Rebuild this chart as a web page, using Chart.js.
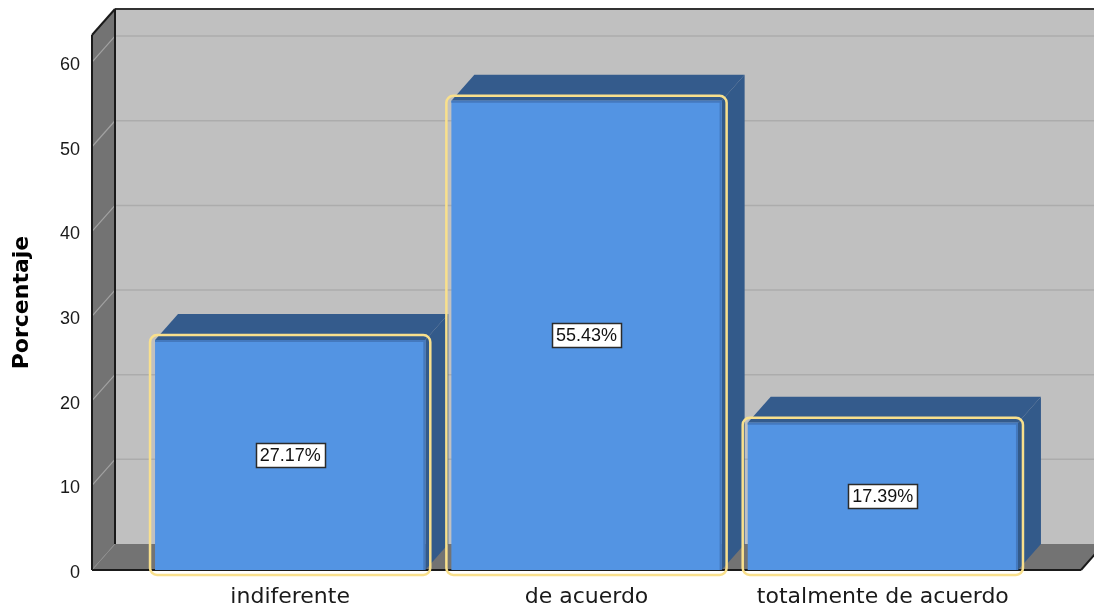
<!DOCTYPE html>
<html lang="es">
<head>
  <meta charset="UTF-8" />
  <title>Porcentaje</title>
  <script src="https://cdn.jsdelivr.net/npm/chart.js"></script>
  <style>
    html, body { margin: 0; background: #fff; }
    #wrap { width: 1094px; height: 609px; }
  </style>
</head>
<body>
  <div id="wrap"><canvas id="chart"></canvas></div>
  <script>
    const categories = ['indiferente', 'de acuerdo', 'totalmente de acuerdo'];
    const percentages = [27.17, 55.43, 17.39];
    const yTicks = [0, 10, 20, 30, 40, 50, 60];

    // depth of the fake 3d box, and how far the walls run past the bars
    const DX = 23, DY = -26, PAD = 50;

    function poly(ctx, pts, fill) {
      ctx.beginPath();
      pts.forEach(([px, py], i) => i ? ctx.lineTo(px, py) : ctx.moveTo(px, py));
      ctx.closePath();
      ctx.fillStyle = fill;
      ctx.fill();
    }

    function line(ctx, x1, y1, x2, y2, color, w) {
      ctx.beginPath();
      ctx.moveTo(x1, y1);
      ctx.lineTo(x2, y2);
      ctx.strokeStyle = color;
      ctx.lineWidth = w;
      ctx.stroke();
    }

    const box3d = {
      id: 'box3d',
      beforeDatasetsDraw(chart) {
        const { ctx, chartArea: a, scales: { y } } = chart;
        const l = a.left - PAD, r = a.right + PAD, t = a.top, b = a.bottom;
        ctx.save();
        // walls and floor
        ctx.fillStyle = '#c0c0c0';
        ctx.fillRect(l + DX, t + DY, r - l, b - t);
        poly(ctx, [[l, t], [l + DX, t + DY], [l + DX, b + DY], [l, b]], '#737373');
        poly(ctx, [[l, b], [l + DX, b + DY], [r + DX, b + DY], [r, b]], '#737373');

        yTicks.forEach(v => {
          if (v === 0) return;
          const py = y.getPixelForValue(v);
          line(ctx, l + DX, py + DY, r + DX, py + DY, '#acacac', 1.5);
          line(ctx, l, py, l + DX, py + DY, '#a2a2a2', 1.2);
        });
        line(ctx, l, b, l + DX, b + DY, '#8c8c8c', 1);

        // dark edges
        line(ctx, l, t, l, b, '#1a1a1a', 2);
        line(ctx, l, t, l + DX, t + DY, '#1a1a1a', 2);
        line(ctx, l + DX, t + DY, r + DX, t + DY, '#333', 2);
        line(ctx, l + DX, t + DY, l + DX, b + DY, '#1a1a1a', 2);
        line(ctx, l, b, r, b, '#1a1a1a', 2);
        line(ctx, r, b, r + DX, b + DY, '#1a1a1a', 2);

        // top and side faces of the bars
        chart.getDatasetMeta(0).data.forEach(bar => {
          const { x, y: top, base, width } = bar.getProps(['x', 'y', 'base', 'width'], true);
          const bl = x - width / 2, br = x + width / 2;
          poly(ctx, [[bl, top], [bl + DX, top + DY], [br + DX, top + DY], [br, top]], '#345b8c');
          poly(ctx, [[br, top], [br + DX, top + DY], [br + DX, base + DY], [br, base]], '#335a8a');
        });
        ctx.restore();
      },
      afterDatasetsDraw(chart) {
        const { ctx } = chart;
        ctx.save();
        chart.getDatasetMeta(0).data.forEach((bar, i) => {
          const { x, y: top, base, width } = bar.getProps(['x', 'y', 'base', 'width'], true);
          const bl = x - width / 2, br = x + width / 2;
          // darker rim along top and right of the front face
          line(ctx, bl, top + 1, br, top + 1, '#4479be', 2);
          line(ctx, br - 1, top, br - 1, base, '#4479be', 2);

          // yellow selection frame
          ctx.beginPath();
          ctx.roundRect(bl - 5, top - 5, width + 10, base - top + 10, 7);
          ctx.strokeStyle = '#f9e08c';
          ctx.lineWidth = 2.5;
          ctx.stroke();

          // value label
          const txt = percentages[i].toFixed(2) + '%';
          ctx.font = '18px "Liberation Sans", Arial, sans-serif';
          const tw = ctx.measureText(txt).width;
          const cy = (top + base) / 2;
          const bw = Math.round(tw + 8), bh = 24;
          const bx = Math.round(x - bw / 2), by = Math.round(cy - bh / 2);
          ctx.fillStyle = '#fff';
          ctx.fillRect(bx, by, bw, bh);
          ctx.strokeStyle = '#2b2b2b';
          ctx.lineWidth = 1.5;
          ctx.strokeRect(bx + 0.5, by + 0.5, bw, bh);
          ctx.fillStyle = '#111';
          ctx.textAlign = 'center';
          ctx.textBaseline = 'middle';
          ctx.fillText(txt, x, cy + 1);
        });
        ctx.restore();
      }
    };

    new Chart(document.getElementById('chart'), {
      type: 'bar',
      data: {
        labels: categories,
        datasets: [{
          data: percentages,
          backgroundColor: '#5394e3',
          borderWidth: 0,
          categoryPercentage: 1,
          barPercentage: 0.912
        }]
      },
      plugins: [box3d],
      options: {
        responsive: true,
        maintainAspectRatio: false,
        animation: false,
        layout: { padding: { top: 35, right: 63, bottom: 0, left: 0 } },
        plugins: { legend: { display: false }, tooltip: { enabled: false } },
        scales: {
          x: {
            grid: { display: false, drawTicks: false },
            border: { display: false },
            ticks: {
              padding: 14,
              color: '#1a1a1a',
              font: { family: '"DejaVu Sans", sans-serif', size: 22 }
            },
            afterFit(s) { s.height = 39; s.paddingLeft = 0; s.paddingRight = 0; }
          },
          y: {
            min: 0,
            max: 63.2,
            grid: { display: false, drawTicks: false },
            border: { display: false },
            afterBuildTicks(s) { s.ticks = yTicks.map(v => ({ value: v })); },
            ticks: {
              padding: 62,
              labelOffset: 3,
              color: '#1a1a1a',
              font: { family: '"Liberation Sans", Arial, sans-serif', size: 18 }
            },
            title: {
              display: true,
              text: 'Porcentaje',
              color: '#000',
              padding: { top: 9, bottom: 0 },
              font: { family: '"DejaVu Sans", sans-serif', size: 22, weight: 'bold' }
            },
            afterFit(s) { s.width = 142; s.paddingTop = 0; s.paddingBottom = 0; }
          }
        }
      }
    });
  </script>
</body>
</html>
